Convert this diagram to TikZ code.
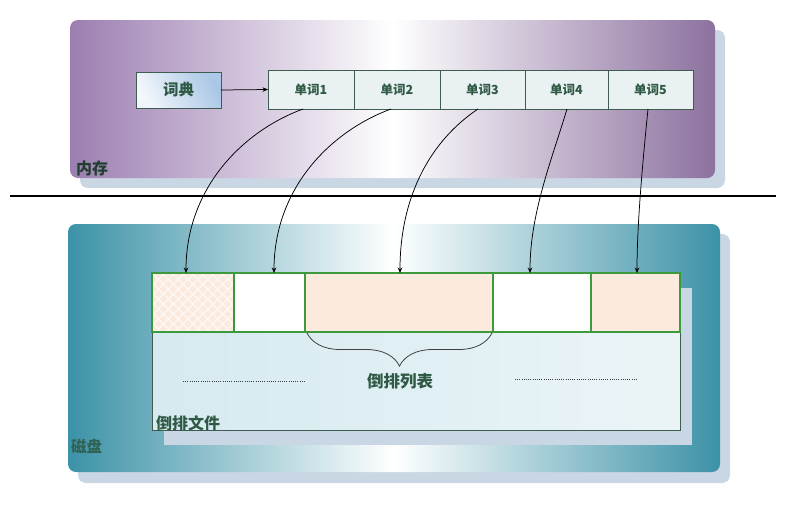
\documentclass[tikz,border=0pt]{standalone}
\usepackage{fontspec}
\newfontfamily\cjk{Noto Sans CJK SC}
\usetikzlibrary{arrows.meta,decorations.pathreplacing,patterns.meta,calc}
\definecolor{purp}{HTML}{9C7EB1}
\definecolor{teal1}{HTML}{3C92A7}
\definecolor{shad}{HTML}{C9D6E3}
\definecolor{wordfill}{HTML}{E9F1F2}
\definecolor{wordedge}{HTML}{3E5C4F}
\definecolor{txtgreen}{HTML}{2E5A45}
\definecolor{peach}{HTML}{FCEADF}
\definecolor{cellgreen}{HTML}{3C9A3C}
\definecolor{filefill}{HTML}{D6EAF0}
\definecolor{dictblue}{HTML}{6F9FD6}
\begin{document}
\begin{tikzpicture}[x=1pt,y=-1pt,
  wordbox/.style={draw=wordedge,line width=0.8pt,fill=wordfill,minimum height=39pt,inner sep=0pt,outer sep=0pt,font=\cjk\bfseries\fontsize{12.5}{13}\selectfont,text=txtgreen},
  cellbox/.style={draw=cellgreen,line width=1.1pt,minimum height=59pt,inner sep=0pt,outer sep=0pt},
  link/.style={-{Stealth[length=5.5pt,width=4.5pt]},line width=0.75pt,black},
  lbl/.style={font=\cjk\bfseries\fontsize{16}{17}\selectfont,text=txtgreen,inner sep=0pt}]
\useasboundingbox (0,0) rectangle (793,507);
% top panel
\fill[shad,rounded corners=8pt] (80,30) rectangle (725,188);
\shade[rounded corners=8pt,left color=purp,right color=purp!90!black,middle color=white] (70,20) rectangle (715,178);
\node[lbl,anchor=south west,text=txtgreen!70!black] (mem) at (76,176) {内存};
% dictionary
\shade[top color=white,bottom color=dictblue!25!white] (136,72) rectangle (221,108);
\shade[left color=white,right color=dictblue,opacity=0.55,shading angle=135] (136,72) rectangle (221,108);
\node[draw=wordedge,line width=0.8pt,minimum width=85pt,minimum height=36pt,inner sep=0pt,outer sep=0pt,
  font=\cjk\bfseries\fontsize{15.5}{16}\selectfont,text=txtgreen] (dict) at (178.5,90) {词典};
% words
\node[wordbox,minimum width=86pt] (w1) at (311,89.5) {单词1};
\node[wordbox,minimum width=86pt] (w2) at (397,89.5) {单词2};
\node[wordbox,minimum width=85pt] (w3) at (482.5,89.5) {单词3};
\node[wordbox,minimum width=83pt] (w4) at (566.5,89.5) {单词4};
\node[wordbox,minimum width=85pt] (w5) at (650.5,89.5) {单词5};
\draw[link] (dict.east) -- (w1.west);
% separator
\coordinate (sepL) at (10,196);
\coordinate (sepR) at (776,196);
\draw[line width=2.2pt,black] (sepL) -- (sepR);
% bottom panel
\fill[shad,rounded corners=8pt] (78,234) rectangle (730,483);
\shade[rounded corners=8pt,left color=teal1,right color=teal1,middle color=white] (68,224) rectangle (720,472);
\node[lbl,anchor=south west,font=\cjk\bfseries\fontsize{15.5}{16}\selectfont,text=txtgreen!85!teal1] (disk) at (71,454) {磁盘};
% file box
\fill[shad] (164,288) rectangle (692,445);
\shade[left color=filefill,right color=filefill!50!white] (152,273) rectangle (680,430);
\draw[wordedge,line width=0.8pt] (152,273) rectangle (680,430);
% cells
\node[cellbox,minimum width=82pt,fill=peach] (c1) at (193,302.5) {};
\fill[pattern={Lines[angle=45,distance=7pt,line width=1.2pt]},pattern color=white!70!peach] (c1.north west) rectangle (c1.south east);
\fill[pattern={Lines[angle=-45,distance=7pt,line width=1.2pt]},pattern color=white!70!peach] (c1.north west) rectangle (c1.south east);
\draw[cellgreen,line width=1.1pt] (c1.north west) rectangle (c1.south east);
\node[cellbox,minimum width=71pt,fill=white] (c2) at (269.5,302.5) {};
\node[cellbox,minimum width=188pt,fill=peach] (c3) at (399,302.5) {};
\node[cellbox,minimum width=98pt,fill=white] (c4) at (542,302.5) {};
\node[cellbox,minimum width=89pt,fill=peach] (c5) at (635.5,302.5) {};
% brace
\coordinate (bL) at (307,333);
\coordinate (bR) at (492,333);
\draw[decorate,decoration={brace,amplitude=33pt,aspect=0.5,mirror},line width=0.8pt,black!75] (bL) -- (bR);
\node[font=\cjk\bfseries\fontsize{16.5}{17}\selectfont,text=txtgreen,inner sep=0pt] (list) at (400,381) {倒排列表};
% dotted lines
\coordinate (d1a) at (183,381); \coordinate (d1b) at (305,381);
\coordinate (d2a) at (515,379); \coordinate (d2b) at (637,379);
\draw[black!75,line width=0.9pt,dash pattern=on 0.9pt off 1.3pt] (d1a) -- (d1b);
\draw[black!75,line width=0.9pt,dash pattern=on 0.9pt off 1.3pt] (d2a) -- (d2b);
\node[lbl,anchor=south west] (file) at (156,431) {倒排文件};
% connectors
\draw[link] ([xshift=-8pt]w1.south) .. controls +(-60,22) and +(0,-85) .. ([xshift=-7pt]c1.north);
\draw[link] ([xshift=-6pt]w2.south) .. controls +(-60,22) and +(0,-85) .. ([xshift=4.5pt]c2.north);
\draw[link] ([xshift=-4.5pt]w3.south) .. controls +(-45,30) and +(0,-80) .. ([xshift=1pt]c3.north);
\draw[link] ([xshift=0.5pt]w4.south) .. controls +(-15,50) and +(0,-60) .. ([xshift=-12pt]c4.north);
\draw[link] ([xshift=-2.5pt]w5.south) .. controls +(-5,50) and +(0,-50) .. ([xshift=1.5pt]c5.north);
\end{tikzpicture}
\end{document}
